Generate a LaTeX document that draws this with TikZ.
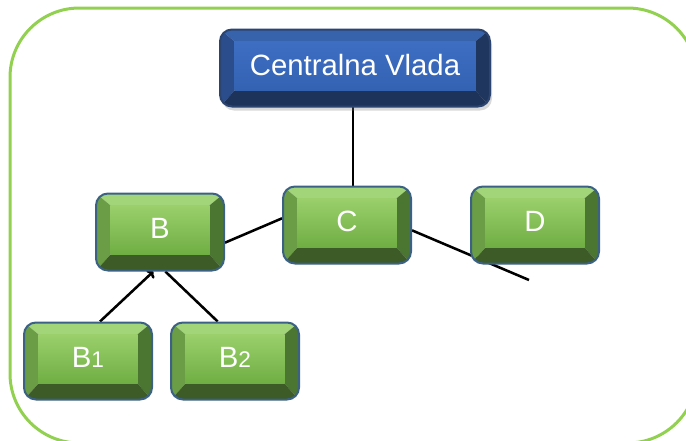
\documentclass[tikz,border=0pt]{standalone}
\usepackage{fontspec}
\setmainfont{Liberation Sans}
\usetikzlibrary{arrows.meta,shadows}
\pgfdeclarelayer{background}
\pgfsetlayers{background,main}

\newcommand{\keyWidth}{96pt}
\newcommand{\keyHeight}{57.75pt}
\newcommand{\headWidth}{202.5pt}
\newcommand{\keyFont}{\fontsize{22}{26}\selectfont}
\newcommand{\idxFont}{\fontsize{17}{20}\selectfont}

\definecolor{frameGreen}{HTML}{92D050}
\definecolor{keyBorder}{HTML}{3B6185}
\definecolor{headBorder}{HTML}{2C4470}
% green key
\definecolor{gTop}{HTML}{A2D57A}
\definecolor{gLeft}{HTML}{6B9D46}
\definecolor{gRight}{HTML}{4A7631}
\definecolor{gBottom}{HTML}{3C5B27}
\definecolor{gFaceA}{HTML}{9ACF6B}
\definecolor{gFaceB}{HTML}{6FAE43}
% blue key
\definecolor{bTop}{HTML}{3763AD}
\definecolor{bLeft}{HTML}{2B4D8B}
\definecolor{bRight}{HTML}{1F375F}
\definecolor{bBottom}{HTML}{1E3359}
\definecolor{bFaceA}{HTML}{3D6EC2}
\definecolor{bFaceB}{HTML}{3462B3}

\tikzset{
  bevel/.style n args={5}{
    path picture={
      \coordinate (pNW) at (path picture bounding box.north west);
      \coordinate (pNE) at (path picture bounding box.north east);
      \coordinate (pSE) at (path picture bounding box.south east);
      \coordinate (pSW) at (path picture bounding box.south west);
      \coordinate (iNW) at ([shift={(11pt,-9pt)}]pNW);
      \coordinate (iNE) at ([shift={(-11pt,-9pt)}]pNE);
      \coordinate (iSE) at ([shift={(-11pt,12pt)}]pSE);
      \coordinate (iSW) at ([shift={(11pt,12pt)}]pSW);
      \fill[sharp corners, #1] (pNW) -- (pNE) -- (iNE) -- (iNW) -- cycle;
      \fill[sharp corners, #2] (pNW) -- (iNW) -- (iSW) -- (pSW) -- cycle;
      \fill[sharp corners, #3] (pNE) -- (pSE) -- (iSE) -- (iNE) -- cycle;
      \fill[sharp corners, #4] (pSW) -- (iSW) -- (iSE) -- (pSE) -- cycle;
      \shade[sharp corners, top color=#5A, bottom color=#5B] (iNW) rectangle (iSE);
    }},
  greenkey/.style={rounded corners=9pt, draw=keyBorder, line width=1.5pt,
    minimum width=\keyWidth, minimum height=\keyHeight, inner sep=0pt,
    text=white, font=\keyFont, text depth=5pt,
    bevel={gTop}{gLeft}{gRight}{gBottom}{gFace}},
  bluekey/.style={rounded corners=9pt, draw=headBorder, line width=1.5pt,
    minimum width=\headWidth, minimum height=\keyHeight, inner sep=0pt,
    text=white, font=\keyFont, text depth=5pt,
    drop shadow={opacity=0.3, shadow xshift=1.5pt, shadow yshift=-3pt},
    bevel={bTop}{bLeft}{bRight}{bBottom}{bFace}},
  link/.style={draw=black, line width=1.9pt}
}

\begin{document}
\begin{tikzpicture}[x=0.75pt, y=-0.75pt]
  \useasboundingbox (0,0) rectangle (686,440);
  \draw[frameGreen, line width=2.25pt, rounded corners=52pt] (10,8) rectangle (697,443);

  \node[bluekey] (vlada) at (355,68) {Centralna Vlada};
  \node[greenkey] (b) at (160,232) {B};
  \node[greenkey] (c) at (347,225) {C};
  \node[greenkey] (d) at (535,225) {D};
  \node[greenkey] (b1) at (88,361) {B\idxFont 1};
  \node[greenkey] (b2) at (235,361) {B\idxFont 2};
  \coordinate (cend) at (529,280);

  \begin{pgfonlayer}{background}
    \draw[link] (353,68) coordinate (vtop) -- (vtop |- c);
    \draw[link] ([yshift=-8pt]b.east) -- ([yshift=5pt]c.west);
    \draw[link] ([yshift=-4pt]c.east) -- (cend);
    \draw[link, -{To[length=4pt]}] ([xshift=9pt]b1.north) -- ([xshift=-5pt]b.south);
    \draw[link] ([xshift=-13pt]b2.north) -- ([xshift=4pt]b.south);
  \end{pgfonlayer}
\end{tikzpicture}
\end{document}
